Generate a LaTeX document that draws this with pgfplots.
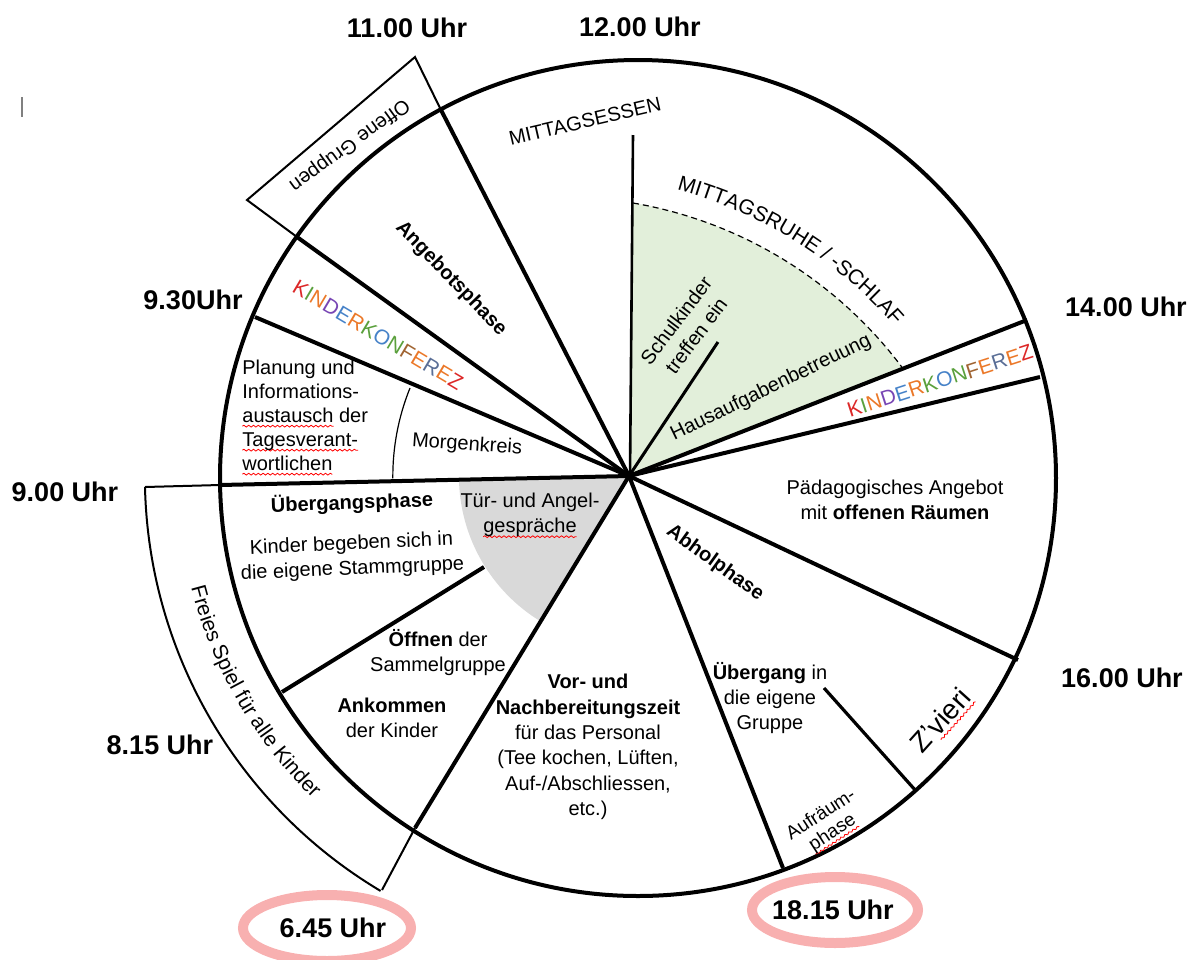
\documentclass[border=0pt]{standalone}
\usepackage{fontspec}
\setmainfont{Liberation Sans}
\usepackage{pgfplots}
\pgfplotsset{compat=1.18}
\usetikzlibrary{decorations.text,decorations.pathmorphing}

\definecolor{pinkring}{RGB}{248,176,176}
\definecolor{lgreen}{RGB}{226,239,218}
\definecolor{lgray}{RGB}{217,217,217}
\definecolor{kred}{RGB}{220,40,40}
\definecolor{kgreen}{RGB}{90,160,60}
\definecolor{korange}{RGB}{235,120,40}
\definecolor{kpurple}{RGB}{120,70,180}
\definecolor{kblue}{RGB}{70,130,200}
\definecolor{kbrown}{RGB}{160,100,50}
\definecolor{kslate}{RGB}{90,110,150}

\newcommand\fb{\fontsize{10}{12.5}\selectfont}
\newcommand\fh{\fontsize{13.5}{16}\selectfont\bfseries}
% red wavy spell-check underline (no extra text node)
\newsavebox\rwbox
\newcommand\rw[1]{\sbox\rwbox{#1}\rlap{\tikz[overlay, reset cm, baseline=0pt]\draw[red, line width=0.4pt,
  decorate, decoration={snake, amplitude=0.45pt, segment length=2.4pt}] (0,-2pt) -- (\the\wd\rwbox,-2pt);}\usebox\rwbox}
\newcommand\kk{\textcolor{kred}{K}\textcolor{kgreen}{I}\textcolor{korange}{N}\textcolor{kpurple}{D}\textcolor{kblue}{E}\textcolor{korange}{R}\textcolor{kgreen}{K}\textcolor{kblue}{O}\textcolor{kgreen}{N}\textcolor{kbrown}{F}\textcolor{korange}{E}\textcolor{kslate}{R}\textcolor{korange}{E}\textcolor{kred}{Z}}

\begin{document}
\begin{tikzpicture}
\path[use as bounding box] (0,0) rectangle (598pt,480pt);
\clip (0,0) rectangle (598pt,480pt);
\begin{axis}[
    width=598pt, height=480pt, scale only axis,
    xmin=0, xmax=1196, ymin=0, ymax=960,
    y dir=reverse,
    hide axis, clip=false,
]
% shaded sectors
\fill[lgreen] (axis cs:629,476) -- (axis cs:633,203) arc[start angle=80.3, end angle=36.9, radius=213pt] -- cycle;
\fill[lgray] (axis cs:629,476) -- (axis cs:459,480) arc[start angle=181.3, end angle=238.6, radius=85pt] -- cycle;
\draw[line width=0.6pt, dash pattern=on 3pt off 2pt] (axis cs:633,203) arc[start angle=80.3, end angle=36.9, radius=213pt];
\draw[line width=0.6pt] (axis cs:410,388) arc[start angle=158, end angle=180.5, radius=118pt];

% outer circle and outer tabs
\draw[line width=2pt] (axis cs:638,478) circle[radius=209pt];
\addplot[line width=1pt] coordinates {(440,108) (415,57) (247,200) (297,237)};
\addplot[line width=1pt] coordinates {(220,485) (145,487)};
\addplot[line width=1pt] coordinates {(382,890) (415,828)};
\draw[line width=1pt] (axis cs:145,487) arc[start angle=181.3, end angle=239.2, radius=241.5pt];

% spokes
\addplot[line width=2pt] coordinates {(629,476) (440,108)};
\addplot[line width=2pt] coordinates {(629,476) (297,237)};
\addplot[line width=2pt] coordinates {(629,476) (255,317)};
\addplot[line width=2pt] coordinates {(629,476) (220,485)};
\addplot[line width=2pt] coordinates {(282,692) (484,567)};
\addplot[line width=2pt] coordinates {(629,476) (415,828)};
\addplot[line width=2pt] coordinates {(629,476) (783,868)};
\addplot[line width=1.6pt] coordinates {(824,688) (916,791)};
\addplot[line width=2pt] coordinates {(629,476) (1018,660)};
\addplot[line width=2pt] coordinates {(629,476) (1027,320)};
\addplot[line width=2pt] coordinates {(629,476) (1040,377)};
\addplot[line width=1.3pt] coordinates {(633,135) (630,476)};
\addplot[line width=1.5pt] coordinates {(629,476) (718,342)};
\addplot[line width=0.6pt, gray] coordinates {(22,97) (22,117)};

% rings around start and end time
\draw[pinkring, line width=5pt] (axis cs:327,928) ellipse[x radius=42pt, y radius=16.5pt];
\draw[pinkring, line width=5pt] (axis cs:835,910) ellipse[x radius=41.5pt, y radius=16.5pt];

% time labels
\node[font=\fh] at (axis cs:407,28) {11.00 Uhr};
\node[font=\fh] at (axis cs:640,27) {12.00 Uhr};
\node[font=\fh] at (axis cs:193,300) {9.30Uhr};
\node[font=\fh] at (axis cs:65,492) {9.00 Uhr};
\node[font=\fh] at (axis cs:1126,307) {14.00 Uhr};
\node[font=\fh] at (axis cs:1122,678) {16.00 Uhr};
\node[font=\fh] at (axis cs:160,745) {8.15 Uhr};
\node[font=\fh] at (axis cs:333,928) {6.45 Uhr};
\node[font=\fh] at (axis cs:833,910) {18.15 Uhr};

% curved texts
\path[decorate, decoration={text along path, text align=center,
    text={|\fontsize{10.5}{12}\selectfont|MITTAGSRUHE / -SCHLAF}}]
    (axis cs:623,179) arc[start angle=82, end angle=34, radius=221pt];
\path[decorate, decoration={text along path, text align=center,
    text={|\fontsize{10.5}{12}\selectfont|Freies Spiel für alle Kinder}}]
    (axis cs:178,507) arc[start angle=184, end angle=236, radius=226pt];

% segment texts
\node[font=\fb, rotate=13] at (axis cs:585,121) {MITTAGSESSEN};
\node[font=\fb, rotate=-144] at (axis cs:349,145) {Offene Gruppen};
\node[font=\fb\bfseries, rotate=-46] at (axis cs:451,279) {Angebotsphase};
\node[font=\fontsize{10.5}{12}\selectfont, rotate=-30.7] at (axis cs:378,335) {\kk};
\node[font=\fontsize{10.5}{12}\selectfont, rotate=18] at (axis cs:940,381) {\kk};
\node[font=\fontsize{10}{12}\selectfont, align=left, anchor=west, inner sep=0pt] at (axis cs:242,415)
    {Planung und\\Informations-\\\rw{austausch} der\\\rw{Tagesverant-}\\\rw{wortlichen}};
\node[font=\fb, rotate=-4] at (axis cs:467,445) {Morgenkreis};
\node[font=\fb\bfseries, rotate=2] at (axis cs:352,503) {Übergangsphase};
\node[font=\fb, rotate=2.5, align=center] at (axis cs:352,557) {Kinder begeben sich in\\die eigene Stammgruppe};
\node[font=\fb, align=center] at (axis cs:530,515) {Tür- und Angel-\\\rw{gespräche}};
\node[font=\fb, align=center] at (axis cs:438,653) {\textbf{Öffnen} der\\Sammelgruppe};
\node[font=\fb, align=center] at (axis cs:392,718) {\textbf{Ankommen}\\der Kinder};
\node[font=\fontsize{10}{12.7}\selectfont, align=center] at (axis cs:588,747)
    {\textbf{Vor- und}\\\textbf{Nachbereitungszeit}\\für das Personal\\(Tee kochen, Lüften,\\Auf-/Abschliessen,\\etc.)};
\node[font=\fb\bfseries, rotate=-36] at (axis cs:715,563) {Abholphase};
\node[font=\fb, align=center] at (axis cs:770,698) {\textbf{Übergang} in\\die eigene\\Gruppe};
\node[font=\fontsize{14}{16}\selectfont, rotate=48] at (axis cs:940,720) {Z'\rw{vieri}};
\node[font=\fontsize{9.5}{10.5}\selectfont, rotate=33, align=center] at (axis cs:827,824) {Aufräum-\\\rw{phase}};
\node[font=\fb, rotate=53, align=center] at (axis cs:686,328) {Schulkinder\\treffen ein};
\node[font=\fb, rotate=26] at (axis cs:771,388) {Hausaufgabenbetreuung};
\node[font=\fb, align=center] at (axis cs:895,500) {Pädagogisches Angebot\\mit \textbf{offenen Räumen}};
\end{axis}
\end{tikzpicture}
\end{document}
